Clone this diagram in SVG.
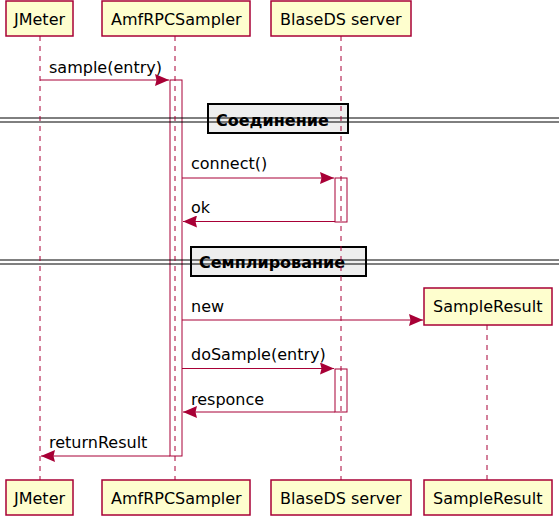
<svg xmlns="http://www.w3.org/2000/svg" width="559" height="518" viewBox="0 0 559 518">
<style>
.p rect{fill:#FEFECE;stroke:#A80036;stroke-width:1.5}
.p text,.msg text{font-family:"DejaVu Sans",sans-serif;font-size:16px;fill:#000}
.life{stroke:#A80036;stroke-width:1;stroke-dasharray:5,5;fill:none}
.act{fill:#FFFFFF;stroke:#A80036;stroke-width:1}
.msg line{stroke:#A80036;stroke-width:1}
.div rect{fill:#EEEEEE;stroke:#000;stroke-width:2}
.div line{stroke:#000;stroke-width:1}
.div text{font-family:"DejaVu Sans",sans-serif;font-size:16px;font-weight:bold;fill:#000}
</style>
<defs>
<marker id="ah" viewBox="0 0 14 12" refX="14" refY="6" markerWidth="14" markerHeight="12" markerUnits="userSpaceOnUse" orient="auto">
<path d="M0,0 L14,6 L0,12 L1.5,6 Z" fill="#A80036"/>
</marker>
</defs>

<g id="activations">
<rect class="act" x="170" y="80" width="12" height="376"/>
<rect class="act" x="335" y="178" width="12" height="44"/>
<rect class="act" x="335" y="369" width="12" height="43"/>
</g>

<g id="dividers" class="div">
<g id="div1">
<rect x="208" y="104" width="140" height="29"/>
<line x1="0" y1="118" x2="559" y2="118"/>
<line x1="0" y1="122" x2="559" y2="122"/>
<text x="216" y="126">Соединение</text>
</g>
<g id="div2">
<rect x="191" y="247" width="175" height="29"/>
<line x1="0" y1="260" x2="559" y2="260"/>
<line x1="0" y1="264" x2="559" y2="264"/>
<text x="199" y="268">Семплирование</text>
</g>
</g>

<g id="lifelines">
<line class="life" x1="40" y1="36" x2="40" y2="480"/>
<line class="life" x1="175" y1="36" x2="175" y2="480"/>
<line class="life" x1="341" y1="36" x2="341" y2="480"/>
<line class="life" x1="487" y1="325" x2="487" y2="480"/>
</g>

<g id="connectors" class="msg">
<line x1="40" y1="80" x2="169" y2="80" marker-end="url(#ah)"/>
<text x="49" y="73">sample(entry)</text>
<line x1="182" y1="178" x2="334" y2="178" marker-end="url(#ah)"/>
<text x="191" y="169">connect()</text>
<line x1="335" y1="221.5" x2="183" y2="221.5" marker-end="url(#ah)"/>
<text x="191" y="213">ok</text>
<line x1="182" y1="320" x2="423" y2="320" marker-end="url(#ah)"/>
<text x="191" y="312">new</text>
<line x1="182" y1="368.5" x2="334" y2="368.5" marker-end="url(#ah)"/>
<text x="191" y="360">doSample(entry)</text>
<line x1="335" y1="412" x2="183" y2="412" marker-end="url(#ah)"/>
<text x="191" y="405">responce</text>
<line x1="170" y1="456" x2="41" y2="456" marker-end="url(#ah)"/>
<text x="49" y="448">returnResult</text>
</g>

<g id="JMeter" class="p">
<rect x="6" y="1" width="67" height="35"/>
<text x="14" y="25">JMeter</text>
<rect x="6" y="480" width="67" height="35"/>
<text x="14" y="504">JMeter</text>
</g>
<g id="AmfRPCSampler" class="p">
<rect x="102" y="1" width="148" height="35"/>
<text x="111" y="25">AmfRPCSampler</text>
<rect x="102" y="480" width="148" height="35"/>
<text x="111" y="504">AmfRPCSampler</text>
</g>
<g id="BlaseDS" class="p">
<rect x="271" y="1" width="140" height="35"/>
<text x="280" y="25">BlaseDS server</text>
<rect x="271" y="480" width="140" height="35"/>
<text x="280" y="504">BlaseDS server</text>
</g>
<g id="SampleResult" class="p">
<rect x="424" y="288" width="128" height="37"/>
<text x="433" y="312">SampleResult</text>
<rect x="424" y="480" width="128" height="35"/>
<text x="433" y="504">SampleResult</text>
</g>
</svg>
